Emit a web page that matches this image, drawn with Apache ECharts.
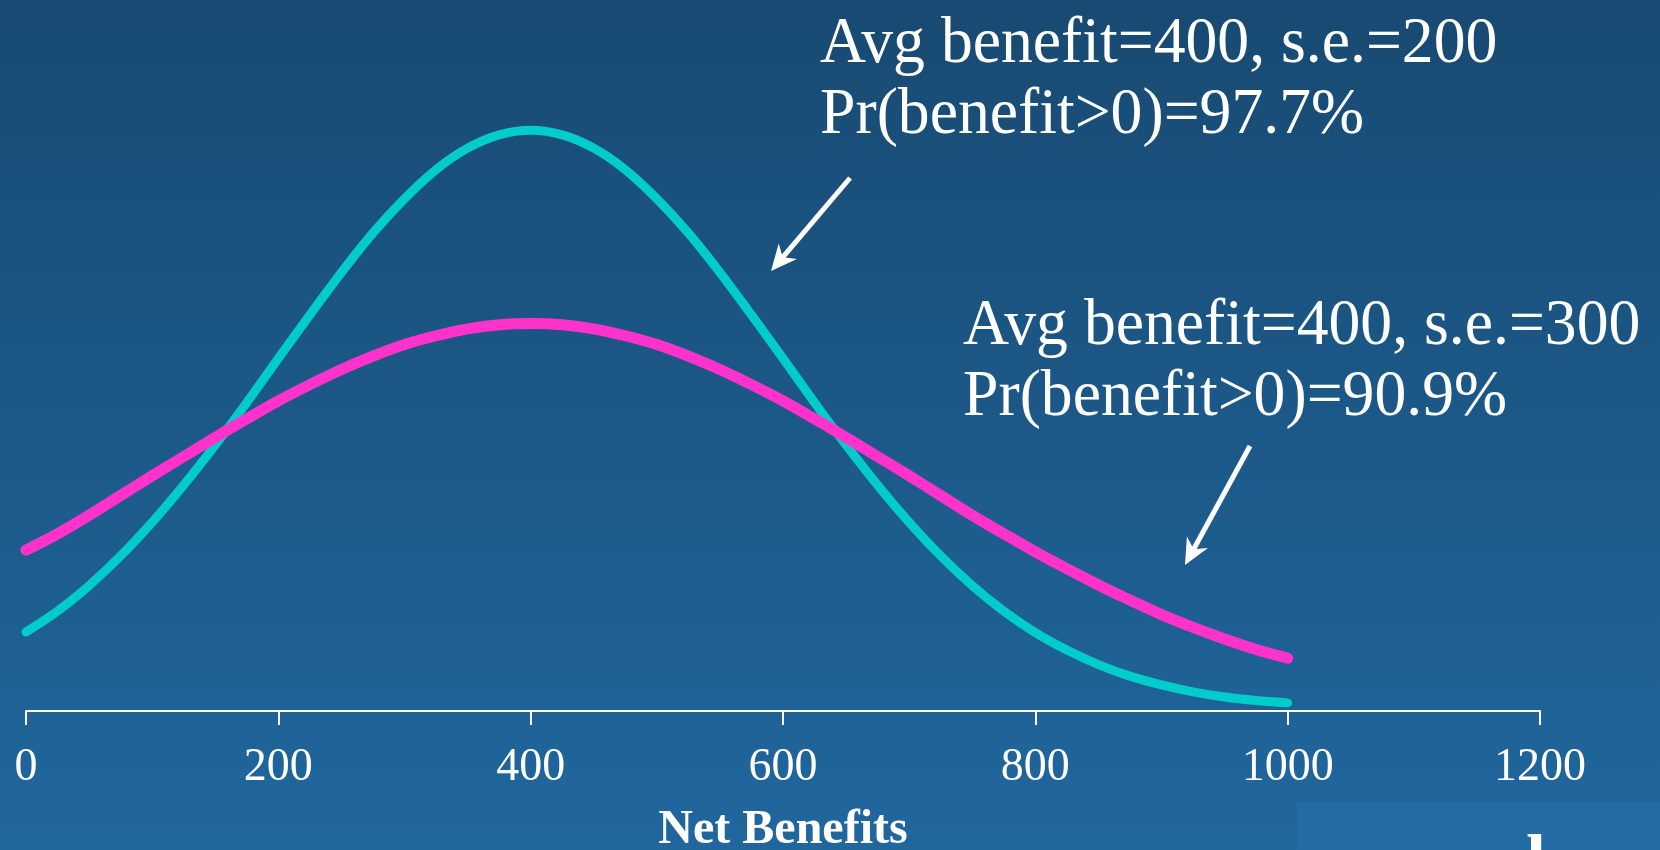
<!DOCTYPE html>
<html>
<head>
<meta charset="utf-8">
<script src="https://cdn.jsdelivr.net/npm/echarts@6/dist/echarts.min.js"></script>
<style>
  html, body { margin: 0; padding: 0; }
  #chart { width: 1660px; height: 850px; }
</style>
</head>
<body>
<div id="chart"></div>
<script>
// net benefit values on the x axis (every 25)
const netBenefits = [0, 25, 50, 75, 100, 125, 150, 175, 200, 225, 250, 275, 300, 325, 350, 375,
  400, 425, 450, 475, 500, 525, 550, 575, 600, 625, 650, 675, 700, 725, 750, 775,
  800, 825, 850, 875, 900, 925, 950, 975, 1000]
// curve heights (peak of the narrow curve = 1)
const se200 = [0.136, 0.172, 0.216, 0.267, 0.325, 0.389, 0.458, 0.531, 0.607, 0.682, 0.755, 0.823,
  0.882, 0.932, 0.969, 0.992, 1.0, 0.992, 0.969, 0.932, 0.882, 0.823, 0.755, 0.682, 0.607,
  0.531, 0.458, 0.389, 0.325, 0.267, 0.216, 0.172, 0.135, 0.105, 0.08, 0.06, 0.045, 0.033,
  0.024, 0.018, 0.014]
const se300 = [0.277, 0.305, 0.337, 0.371, 0.405, 0.438, 0.471, 0.503, 0.534, 0.562, 0.588, 0.611,
  0.631, 0.646, 0.658, 0.665, 0.667, 0.665, 0.658, 0.646, 0.631, 0.611, 0.588, 0.562, 0.534,
  0.503, 0.471, 0.438, 0.405, 0.371, 0.337, 0.305, 0.274, 0.245, 0.217, 0.191, 0.166, 0.144,
  0.124, 0.106, 0.091]
const xTicks = [0, 200, 400, 600, 800, 1000, 1200]

const serif = "'Liberation Serif', 'Times New Roman', serif"

const chart = echarts.init(document.getElementById('chart'))

function arrow(x1, y1, x2, y2) {
  const a = Math.atan2(y2 - y1, x2 - x1)
  const len = 26, half = 12, notch = 8
  const bx = x2 - Math.cos(a) * len, by = y2 - Math.sin(a) * len
  const nx = x2 - Math.cos(a) * (len - notch), ny = y2 - Math.sin(a) * (len - notch)
  const px = -Math.sin(a) * half, py = Math.cos(a) * half
  return [
    { type: 'line', shape: { x1, y1, x2: nx, y2: ny },
      style: { stroke: '#fff', lineWidth: 5 } },
    { type: 'polygon', shape: { points: [[x2, y2], [bx + px, by + py], [nx, ny], [bx - px, by - py]] },
      style: { fill: '#fff' } }
  ]
}

chart.setOption({
  backgroundColor: {
    type: 'linear', x: 0, y: 0, x2: 0, y2: 1,
    colorStops: [{ offset: 0, color: '#184a72' }, { offset: 1, color: '#20679e' }]
  },
  animation: false,
  grid: { left: 26, right: 120, top: 14, bottom: 139, outerBoundsMode: 'none' },
  xAxis: {
    type: 'value', min: 0, max: 1200, interval: 200,
    name: 'Net Benefits', nameLocation: 'middle', nameGap: 96,
    nameTextStyle: { color: '#fff', fontSize: 48, fontWeight: 'bold', fontFamily: serif },
    axisLine: { lineStyle: { color: '#fff', width: 2 } },
    axisTick: { length: 14, lineStyle: { color: '#fff', width: 2 } },
    axisLabel: {
      color: '#fff', fontSize: 46, fontFamily: serif, margin: 34,
      formatter: v => xTicks.includes(v) ? String(v) : ''
    },
    splitLine: { show: false }
  },
  yAxis: { type: 'value', min: 0, max: 1.2, show: false },
  series: [
    {
      type: 'line', smooth: 0.3, symbol: 'none',
      data: netBenefits.map((x, i) => [x, se200[i]]),
      lineStyle: { color: '#00cccc', width: 9, cap: 'round' }
    },
    {
      type: 'line', smooth: 0.3, symbol: 'none',
      data: netBenefits.map((x, i) => [x, se300[i]]),
      lineStyle: { color: '#ff33cc', width: 11, cap: 'round' }
    }
  ],
  graphic: [
    { type: 'rect', shape: { x: 1297, y: 802, width: 363, height: 48 }, style: { fill: '#226ba4' } },
    { type: 'text', x: 1526, y: 829, style: { text: 'l', fill: '#fff', font: 'bold 72px ' + serif, textVerticalAlign: 'top' } },
    { type: 'text', x: 820, y: 9, scaleX: 0.965, style: { text: 'Avg benefit=400, s.e.=200\nPr(benefit>0)=97.7%', fill: '#fff', font: '66px ' + serif, lineHeight: 71 } },
    { type: 'text', x: 963, y: 291, scaleX: 0.965, style: { text: 'Avg benefit=400, s.e.=300\nPr(benefit>0)=90.9%', fill: '#fff', font: '66px ' + serif, lineHeight: 71 } },
    ...arrow(850, 178, 771, 271),
    ...arrow(1250, 446, 1185, 565)
  ]
})

window.addEventListener('resize', () => chart.resize())
</script>
</body>
</html>
